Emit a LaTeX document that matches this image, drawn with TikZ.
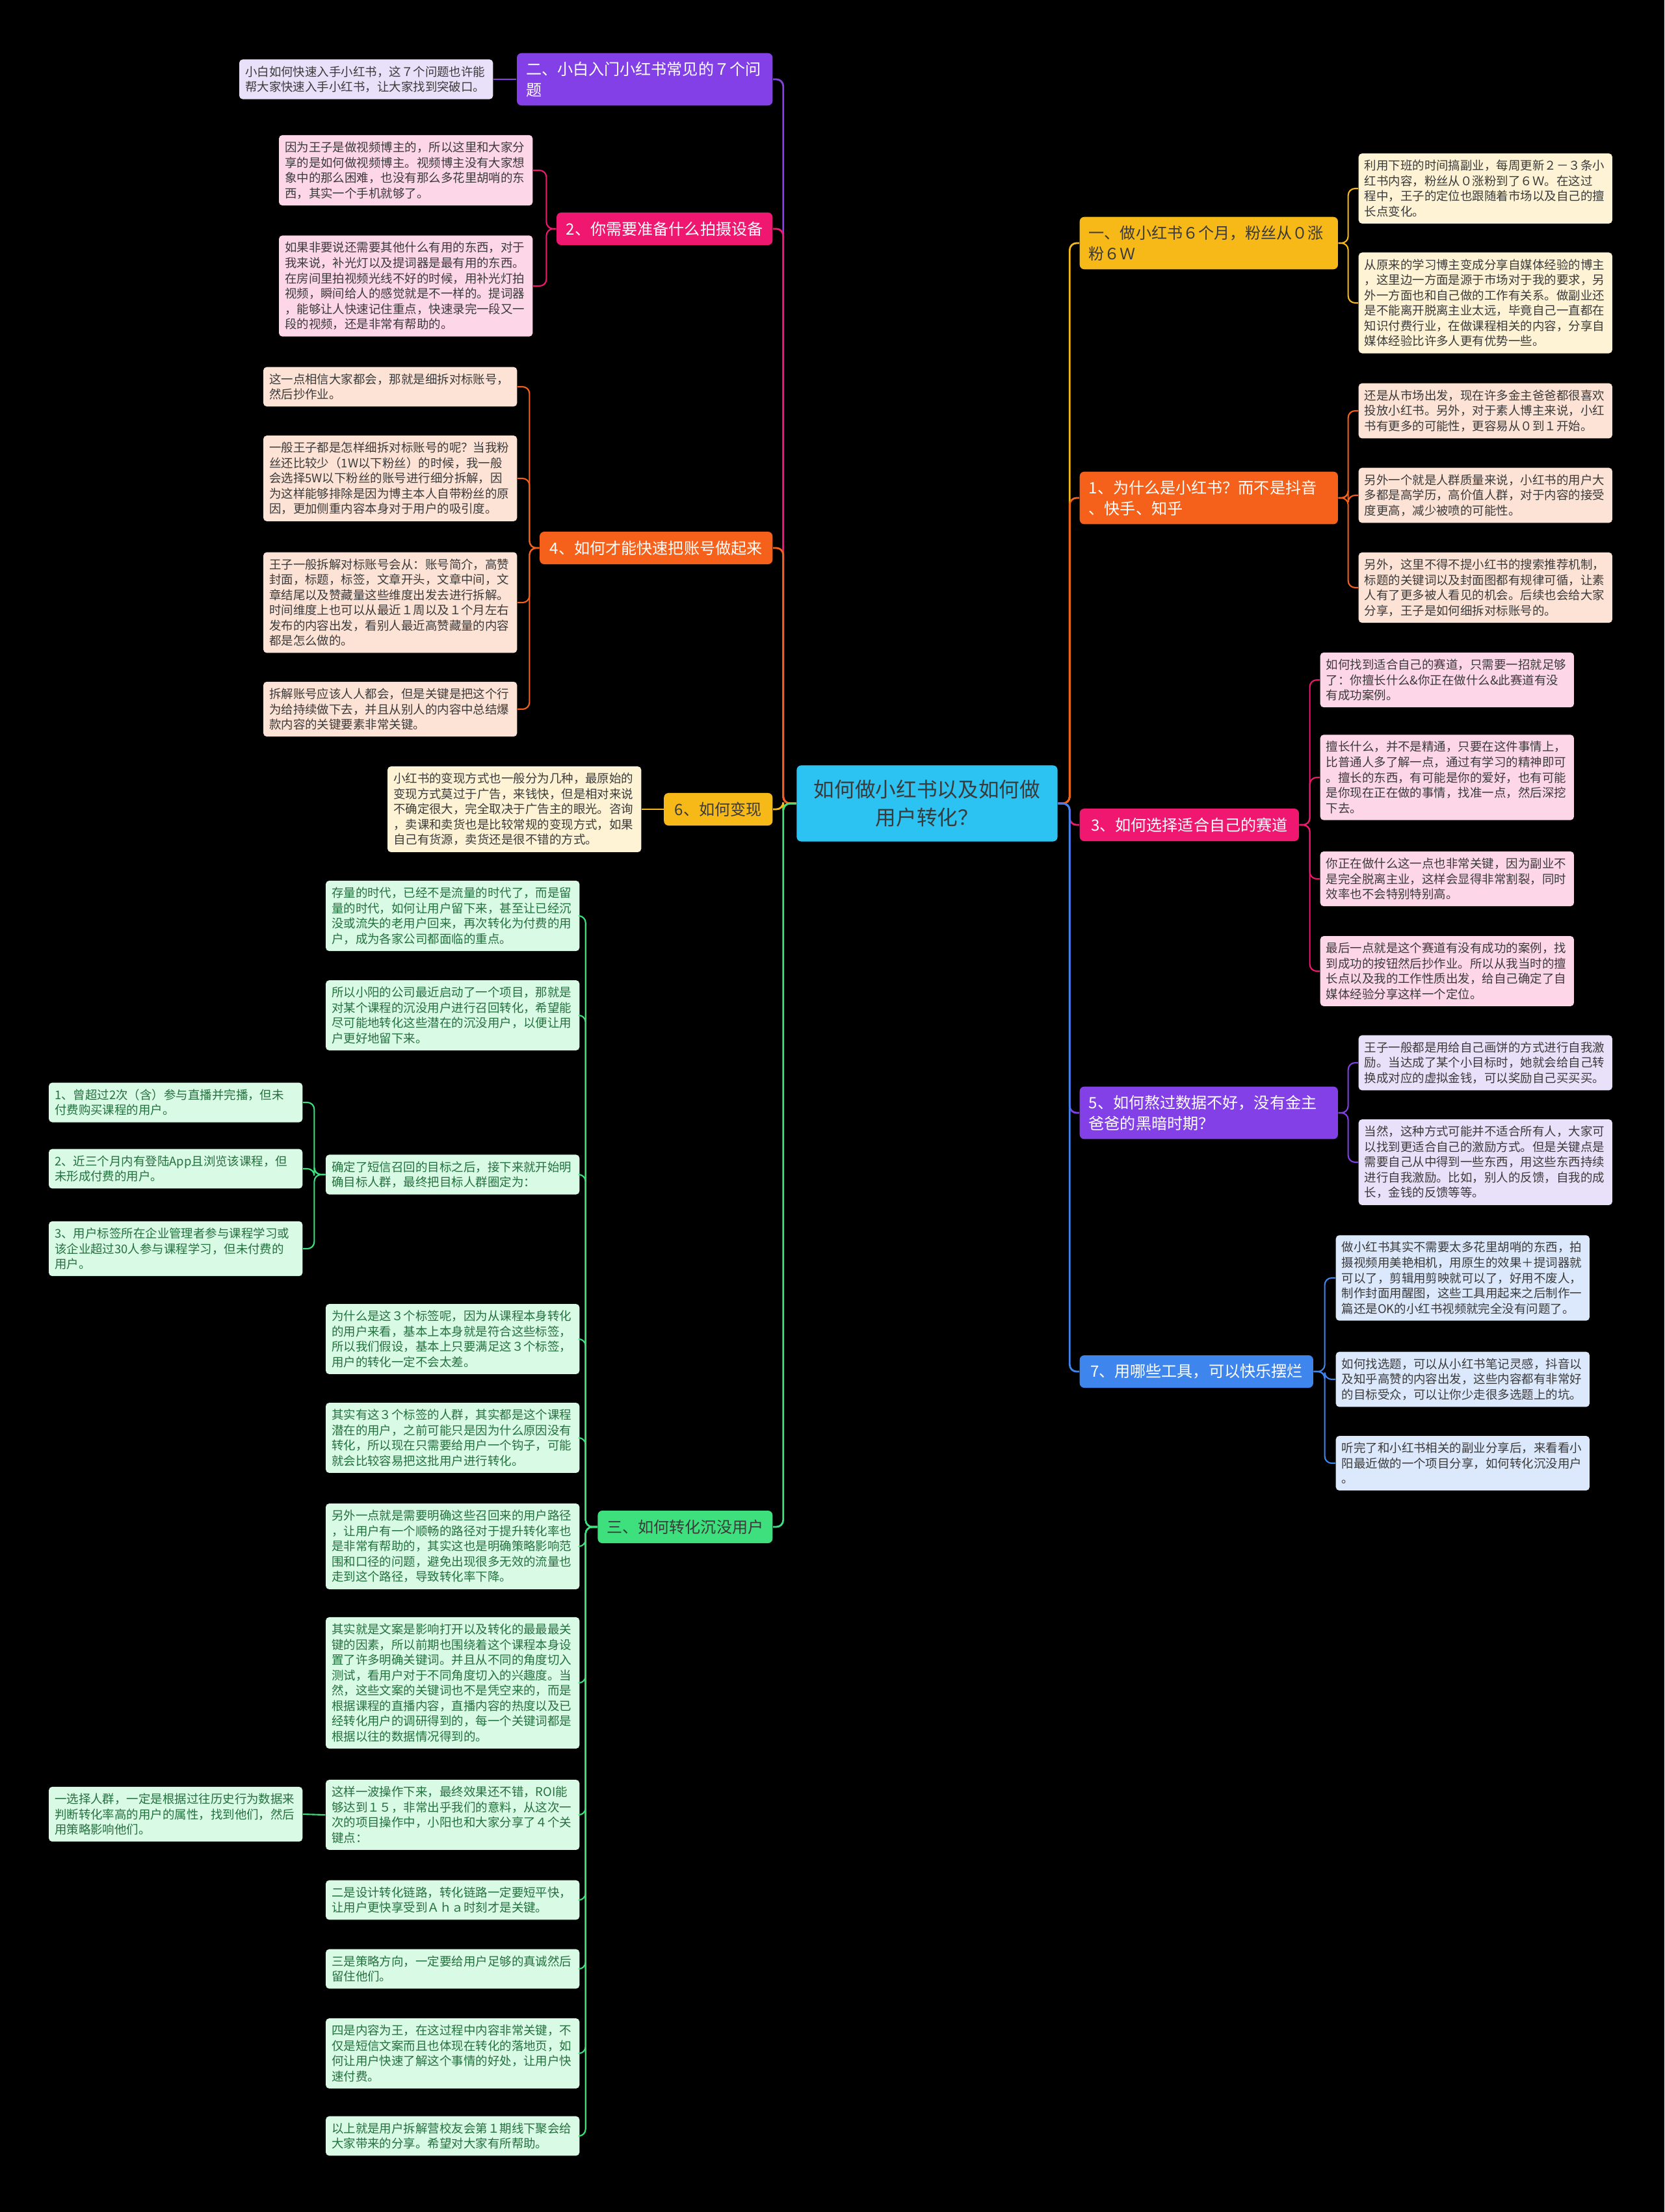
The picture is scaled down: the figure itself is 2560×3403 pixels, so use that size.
\documentclass[tikz,border=0pt]{standalone}
\usepackage{fontspec}
\setmainfont{Noto Sans CJK SC}
\definecolor{mapCyan}{HTML}{2CC3F2}
\definecolor{mapPurple}{HTML}{8340E6}
\definecolor{mapPink}{HTML}{EF176F}
\definecolor{mapOrange}{HTML}{F5611A}
\definecolor{mapAmber}{HTML}{F6B918}
\definecolor{mapGreen}{HTML}{3EE07D}
\definecolor{mapBlue}{HTML}{3E86EE}
\definecolor{mapLilac}{HTML}{E9E1FA}
\definecolor{mapRose}{HTML}{FDD7E7}
\definecolor{mapPeach}{HTML}{FDE3D5}
\definecolor{mapCream}{HTML}{FEF3D5}
\definecolor{mapMint}{HTML}{D9FAE5}
\definecolor{mapSky}{HTML}{DCE8FB}
\definecolor{mapInk}{HTML}{3A3A3A}
\definecolor{mapLeafGreen}{HTML}{24703F}
\newcommand{\leafsize}{\fontsize{5.25pt}{6.7pt}\selectfont}
\newcommand{\branchsize}{\fontsize{6.85pt}{9.2pt}\selectfont}
\newcommand{\rootsize}{\fontsize{9pt}{12.3pt}\selectfont}

\begin{document}
\begin{tikzpicture}[x=0.01cm, y=-0.01cm,
  leaf/.style={rounded corners=1.5pt, inner xsep=0.09cm, inner ysep=0.1cm,
               text width=3.72cm, align=left, font=\leafsize, text=mapInk},
  branch/.style={rounded corners=2pt, inner xsep=0.14cm, inner ysep=0.13cm,
                 minimum height=0.5cm, font=\branchsize, text=white},
  link/.style={line width=0.8pt, rounded corners=3pt},
  twig/.style={line width=0.6pt, rounded corners=3pt}
]
  \fill[black] (0,0) rectangle (2560,3403);
  \useasboundingbox (0,0) rectangle (2560,3403);

  \node[fill=mapCyan, rounded corners=2pt, minimum width=4.01cm, minimum height=1.17cm,
        align=center, font=\rootsize, text=mapInk] (root) at (1426,1236)
    {如何做小红书以及如何做\\用户转化？};

  % left side
  \node[branch, fill=mapPurple, anchor=east, text width=3.65cm, align=left] (bSeven) at (1189,122)
    {二、小白入门小红书常见的７个问\\题};
  \node[branch, fill=mapPink, anchor=east, minimum width=3.32cm] (bGear) at (1189,352)
    {2、你需要准备什么拍摄设备};
  \node[branch, fill=mapOrange, anchor=east, minimum width=3.58cm] (bAccount) at (1189,843)
    {4、如何才能快速把账号做起来};
  \node[branch, fill=mapAmber, text=mapInk, anchor=east, minimum width=1.67cm] (bMoney) at (1189,1245)
    {6、如何变现};
  \node[branch, fill=mapGreen, text=mapInk, anchor=east, minimum width=2.60cm] (bConvert) at (1189,2349)
    {三、如何转化沉没用户};

  \node[leaf, fill=mapLilac, anchor=east] (sevenNote) at (759,122)
    {小白如何快速入手小红书，这７个问题也许能\\帮大家快速入手小红书，让大家找到突破口。};

  \node[leaf, fill=mapRose, anchor=east] (gear1) at (820,262)
    {因为王子是做视频博主的，所以这里和大家分\\享的是如何做视频博主。视频博主没有大家想\\象中的那么困难，也没有那么多花里胡哨的东\\西，其实一个手机就够了。};
  \node[leaf, fill=mapRose, anchor=east] (gear2) at (820,440)
    {如果非要说还需要其他什么有用的东西，对于\\我来说，补光灯以及提词器是最有用的东西。\\在房间里拍视频光线不好的时候，用补光灯拍\\视频，瞬间给人的感觉就是不一样的。提词器\\，能够让人快速记住重点，快速录完一段又一\\段的视频，还是非常有帮助的。};

  \node[leaf, fill=mapPeach, anchor=east] (acct1) at (796,595)
    {这一点相信大家都会，那就是细拆对标账号，\\然后抄作业。};
  \node[leaf, fill=mapPeach, anchor=east] (acct2) at (796,736)
    {一般王子都是怎样细拆对标账号的呢？当我粉\\丝还比较少（1W以下粉丝）的时候，我一般\\会选择5W以下粉丝的账号进行细分拆解，因\\为这样能够排除是因为博主本人自带粉丝的原\\因，更加侧重内容本身对于用户的吸引度。};
  \node[leaf, fill=mapPeach, anchor=east] (acct3) at (796,927)
    {王子一般拆解对标账号会从：账号简介，高赞\\封面，标题，标签，文章开头，文章中间，文\\章结尾以及赞藏量这些维度出发去进行拆解。\\时间维度上也可以从最近１周以及１个月左右\\发布的内容出发，看别人最近高赞藏量的内容\\都是怎么做的。};
  \node[leaf, fill=mapPeach, anchor=east] (acct4) at (796,1091)
    {拆解账号应该人人都会，但是关键是把这个行\\为给持续做下去，并且从别人的内容中总结爆\\款内容的关键要素非常关键。};

  \node[leaf, fill=mapCream, anchor=east] (money1) at (987,1245)
    {小红书的变现方式也一般分为几种，最原始的\\变现方式莫过于广告，来钱快，但是相对来说\\不确定很大，完全取决于广告主的眼光。咨询\\，卖课和卖货也是比较常规的变现方式，如果\\自己有货源，卖货还是很不错的方式。};

  \node[leaf, fill=mapMint, text=mapLeafGreen, anchor=east] (conv1) at (892,1409)
    {存量的时代，已经不是流量的时代了，而是留\\量的时代，如何让用户留下来，甚至让已经沉\\没或流失的老用户回来，再次转化为付费的用\\户，成为各家公司都面临的重点。};
  \node[leaf, fill=mapMint, text=mapLeafGreen, anchor=east] (conv2) at (892,1562)
    {所以小阳的公司最近启动了一个项目，那就是\\对某个课程的沉没用户进行召回转化，希望能\\尽可能地转化这些潜在的沉没用户，以便让用\\户更好地留下来。};
  \node[leaf, fill=mapMint, text=mapLeafGreen, anchor=east] (conv3) at (892,1807)
    {确定了短信召回的目标之后，接下来就开始明\\确目标人群，最终把目标人群圈定为：};
  \node[leaf, fill=mapMint, text=mapLeafGreen, anchor=east] (conv4) at (892,2060)
    {为什么是这３个标签呢，因为从课程本身转化\\的用户来看，基本上本身就是符合这些标签，\\所以我们假设，基本上只要满足这３个标签，\\用户的转化一定不会太差。};
  \node[leaf, fill=mapMint, text=mapLeafGreen, anchor=east] (conv5) at (892,2212)
    {其实有这３个标签的人群，其实都是这个课程\\潜在的用户，之前可能只是因为什么原因没有\\转化，所以现在只需要给用户一个钩子，可能\\就会比较容易把这批用户进行转化。};
  \node[leaf, fill=mapMint, text=mapLeafGreen, anchor=east] (conv6) at (892,2379)
    {另外一点就是需要明确这些召回来的用户路径\\，让用户有一个顺畅的路径对于提升转化率也\\是非常有帮助的，其实这也是明确策略影响范\\围和口径的问题，避免出现很多无效的流量也\\走到这个路径，导致转化率下降。};
  \node[leaf, fill=mapMint, text=mapLeafGreen, anchor=east] (conv7) at (892,2589)
    {其实就是文案是影响打开以及转化的最最最关\\键的因素，所以前期也围绕着这个课程本身设\\置了许多明确关键词。并且从不同的角度切入\\测试，看用户对于不同角度切入的兴趣度。当\\然，这些文案的关键词也不是凭空来的，而是\\根据课程的直播内容，直播内容的热度以及已\\经转化用户的调研得到的，每一个关键词都是\\根据以往的数据情况得到的。};
  \node[leaf, fill=mapMint, text=mapLeafGreen, anchor=east] (conv8) at (892,2792)
    {这样一波操作下来，最终效果还不错，ROI能\\够达到１５，非常出乎我们的意料，从这次一\\次的项目操作中，小阳也和大家分享了４个关\\键点：};
  \node[leaf, fill=mapMint, text=mapLeafGreen, anchor=east] (conv9) at (892,2923)
    {二是设计转化链路，转化链路一定要短平快，\\让用户更快享受到Ａｈａ时刻才是关键。};
  \node[leaf, fill=mapMint, text=mapLeafGreen, anchor=east] (conv10) at (892,3029)
    {三是策略方向，一定要给用户足够的真诚然后\\留住他们。};
  \node[leaf, fill=mapMint, text=mapLeafGreen, anchor=east] (conv11) at (892,3159)
    {四是内容为王，在这过程中内容非常关键，不\\仅是短信文案而且也体现在转化的落地页，如\\何让用户快速了解这个事情的好处，让用户快\\速付费。};
  \node[leaf, fill=mapMint, text=mapLeafGreen, anchor=east] (conv12) at (892,3286)
    {以上就是用户拆解营校友会第１期线下聚会给\\大家带来的分享。希望对大家有所帮助。};

  \node[leaf, fill=mapMint, text=mapLeafGreen, anchor=east] (target1) at (466,1696)
    {1、曾超过2次（含）参与直播并完播，但未\\付费购买课程的用户。};
  \node[leaf, fill=mapMint, text=mapLeafGreen, anchor=east] (target2) at (466,1798)
    {2、近三个月内有登陆App且浏览该课程，但\\未形成付费的用户。};
  \node[leaf, fill=mapMint, text=mapLeafGreen, anchor=east] (target3) at (466,1921)
    {3、用户标签所在企业管理者参与课程学习或\\该企业超过30人参与课程学习，但未付费的\\用户。};
  \node[leaf, fill=mapMint, text=mapLeafGreen, anchor=east] (crowd) at (466,2791)
    {一选择人群，一定是根据过往历史行为数据来\\判断转化率高的用户的属性，找到他们，然后\\用策略影响他们。};

  % right side
  \node[branch, fill=mapAmber, text=mapInk, anchor=west, text width=3.69cm, align=left] (bGrow) at (1660,374)
    {一、做小红书６个月，粉丝从０涨\\粉６Ｗ};
  \node[branch, fill=mapOrange, anchor=west, text width=3.69cm, align=left] (bWhy) at (1660,766)
    {1、为什么是小红书？而不是抖音\\、快手、知乎};
  \node[branch, fill=mapPink, anchor=west, minimum width=3.37cm] (bTrack) at (1660,1269)
    {3、如何选择适合自己的赛道};
  \node[branch, fill=mapPurple, anchor=west, text width=3.69cm, align=left] (bDark) at (1660,1712)
    {5、如何熬过数据不好，没有金主\\爸爸的黑暗时期？};
  \node[branch, fill=mapBlue, anchor=west, minimum width=3.59cm] (bTools) at (1660,2110)
    {7、用哪些工具，可以快乐摆烂};

  \node[leaf, fill=mapCream, anchor=west] (grow1) at (2089,290)
    {利用下班的时间搞副业，每周更新２－３条小\\红书内容，粉丝从０涨粉到了６Ｗ。在这过\\程中，王子的定位也跟随着市场以及自己的擅\\长点变化。};
  \node[leaf, fill=mapCream, anchor=west] (grow2) at (2089,466)
    {从原来的学习博主变成分享自媒体经验的博主\\，这里边一方面是源于市场对于我的要求，另\\外一方面也和自己做的工作有关系。做副业还\\是不能离开脱离主业太远，毕竟自己一直都在\\知识付费行业，在做课程相关的内容，分享自\\媒体经验比许多人更有优势一些。};

  \node[leaf, fill=mapPeach, anchor=west] (why1) at (2089,632)
    {还是从市场出发，现在许多金主爸爸都很喜欢\\投放小红书。另外，对于素人博主来说，小红\\书有更多的可能性，更容易从０到１开始。};
  \node[leaf, fill=mapPeach, anchor=west] (why2) at (2089,762)
    {另外一个就是人群质量来说，小红书的用户大\\多都是高学历，高价值人群，对于内容的接受\\度更高，减少被喷的可能性。};
  \node[leaf, fill=mapPeach, anchor=west] (why3) at (2089,904)
    {另外，这里不得不提小红书的搜索推荐机制，\\标题的关键词以及封面图都有规律可循，让素\\人有了更多被人看见的机会。后续也会给大家\\分享，王子是如何细拆对标账号的。};

  \node[leaf, fill=mapRose, anchor=west] (track1) at (2030,1046)
    {如何找到适合自己的赛道，只需要一招就足够\\了：你擅长什么\&你正在做什么\&此赛道有没\\有成功案例。};
  \node[leaf, fill=mapRose, anchor=west] (track2) at (2030,1196)
    {擅长什么，并不是精通，只要在这件事情上，\\比普通人多了解一点，通过有学习的精神即可\\。擅长的东西，有可能是你的爱好，也有可能\\是你现在正在做的事情，找准一点，然后深挖\\下去。};
  \node[leaf, fill=mapRose, anchor=west] (track3) at (2030,1352)
    {你正在做什么这一点也非常关键，因为副业不\\是完全脱离主业，这样会显得非常割裂，同时\\效率也不会特别特别高。};
  \node[leaf, fill=mapRose, anchor=west] (track4) at (2030,1494)
    {最后一点就是这个赛道有没有成功的案例，找\\到成功的按钮然后抄作业。所以从我当时的擅\\长点以及我的工作性质出发，给自己确定了自\\媒体经验分享这样一个定位。};

  \node[leaf, fill=mapLilac, anchor=west] (dark1) at (2089,1635)
    {王子一般都是用给自己画饼的方式进行自我激\\励。当达成了某个小目标时，她就会给自己转\\换成对应的虚拟金钱，可以奖励自己买买买。};
  \node[leaf, fill=mapLilac, anchor=west] (dark2) at (2089,1788)
    {当然，这种方式可能并不适合所有人，大家可\\以找到更适合自己的激励方式。但是关键点是\\需要自己从中得到一些东西，用这些东西持续\\进行自我激励。比如，别人的反馈，自我的成\\长，金钱的反馈等等。};

  \node[leaf, fill=mapSky, anchor=west] (tool1) at (2054,1966)
    {做小红书其实不需要太多花里胡哨的东西，拍\\摄视频用美艳相机，用原生的效果＋提词器就\\可以了，剪辑用剪映就可以了，好用不废人，\\制作封面用醒图，这些工具用起来之后制作一\\篇还是OK的小红书视频就完全没有问题了。};
  \node[leaf, fill=mapSky, anchor=west] (tool2) at (2054,2122)
    {如何找选题，可以从小红书笔记灵感，抖音以\\及知乎高赞的内容出发，这些内容都有非常好\\的目标受众，可以让你少走很多选题上的坑。};
  \node[leaf, fill=mapSky, anchor=west] (tool3) at (2054,2251)
    {听完了和小红书相关的副业分享后，来看看小\\阳最近做的一个项目分享，如何转化沉没用户\\。};

  % root to branches
  \draw[link, mapPurple] (root.west) -- ++(-20,0) |- (bSeven.east);
  \draw[link, mapPink] (root.west) -- ++(-20,0) |- (bGear.east);
  \draw[link, mapOrange] (root.west) -- ++(-20,0) |- (bAccount.east);
  \draw[link, mapAmber] (root.west) -- ++(-20,0) |- (bMoney.east);
  \draw[link, mapGreen] (root.west) -- ++(-20,0) |- (bConvert.east);
  \draw[link, mapAmber] (root.east) -- ++(18,0) |- (bGrow.west);
  \draw[link, mapOrange] (root.east) -- ++(18,0) |- (bWhy.west);
  \draw[link, mapPink] (root.east) -- ++(18,0) |- (bTrack.west);
  \draw[link, mapPurple] (root.east) -- ++(18,0) |- (bDark.west);
  \draw[link, mapBlue] (root.east) -- ++(18,0) |- (bTools.west);

  % branches to leaves
  \draw[twig, mapPurple] (bSeven.west) -- (sevenNote.east);
  \draw[twig, mapPink] (bGear.west) -- ++(-15,0) |- (gear1.east);
  \draw[twig, mapPink] (bGear.west) -- ++(-15,0) |- (gear2.east);
  \draw[twig, mapOrange] (bAccount.west) -- ++(-15,0) |- (acct1.east);
  \draw[twig, mapOrange] (bAccount.west) -- ++(-15,0) |- (acct2.east);
  \draw[twig, mapOrange] (bAccount.west) -- ++(-15,0) |- (acct3.east);
  \draw[twig, mapOrange] (bAccount.west) -- ++(-15,0) |- (acct4.east);
  \draw[twig, mapAmber] (bMoney.west) -- (money1.east);
  \draw[twig, mapGreen] (bConvert.west) -- ++(-18,0) |- (conv1.east);
  \draw[twig, mapGreen] (bConvert.west) -- ++(-18,0) |- (conv2.east);
  \draw[twig, mapGreen] (bConvert.west) -- ++(-18,0) |- (conv3.east);
  \draw[twig, mapGreen] (bConvert.west) -- ++(-18,0) |- (conv4.east);
  \draw[twig, mapGreen] (bConvert.west) -- ++(-18,0) |- (conv5.east);
  \draw[twig, mapGreen] (bConvert.west) -- ++(-18,0) |- (conv6.east);
  \draw[twig, mapGreen] (bConvert.west) -- ++(-18,0) |- (conv7.east);
  \draw[twig, mapGreen] (bConvert.west) -- ++(-18,0) |- (conv8.east);
  \draw[twig, mapGreen] (bConvert.west) -- ++(-18,0) |- (conv9.east);
  \draw[twig, mapGreen] (bConvert.west) -- ++(-18,0) |- (conv10.east);
  \draw[twig, mapGreen] (bConvert.west) -- ++(-18,0) |- (conv11.east);
  \draw[twig, mapGreen] (bConvert.west) -- ++(-18,0) |- (conv12.east);
  \draw[twig, mapGreen] (conv3.west) -- ++(-17,0) |- (target1.east);
  \draw[twig, mapGreen] (conv3.west) -- ++(-17,0) |- (target2.east);
  \draw[twig, mapGreen] (conv3.west) -- ++(-17,0) |- (target3.east);
  \draw[twig, mapGreen] (conv8.west) -- (crowd.east);

  \draw[twig, mapAmber] (bGrow.east) -- ++(15,0) |- (grow1.west);
  \draw[twig, mapAmber] (bGrow.east) -- ++(15,0) |- (grow2.west);
  \draw[twig, mapOrange] (bWhy.east) -- ++(15,0) |- (why1.west);
  \draw[twig, mapOrange] (bWhy.east) -- ++(15,0) |- (why2.west);
  \draw[twig, mapOrange] (bWhy.east) -- ++(15,0) |- (why3.west);
  \draw[twig, mapPink] (bTrack.east) -- ++(16,0) |- (track1.west);
  \draw[twig, mapPink] (bTrack.east) -- ++(16,0) |- (track2.west);
  \draw[twig, mapPink] (bTrack.east) -- ++(16,0) |- (track3.west);
  \draw[twig, mapPink] (bTrack.east) -- ++(16,0) |- (track4.west);
  \draw[twig, mapPurple] (bDark.east) -- ++(15,0) |- (dark1.west);
  \draw[twig, mapPurple] (bDark.east) -- ++(15,0) |- (dark2.west);
  \draw[twig, mapBlue] (bTools.east) -- ++(17,0) |- (tool1.west);
  \draw[twig, mapBlue] (bTools.east) -- ++(17,0) |- (tool2.west);
  \draw[twig, mapBlue] (bTools.east) -- ++(17,0) |- (tool3.west);
\end{tikzpicture}
\end{document}
